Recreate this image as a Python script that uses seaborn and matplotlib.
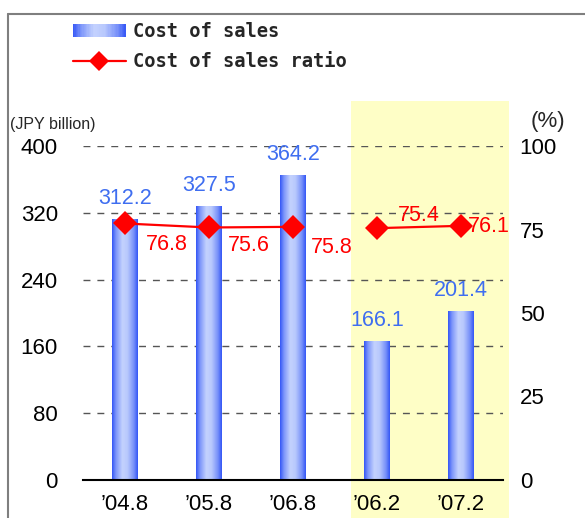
import numpy as np
import pandas as pd
import seaborn as sns
import matplotlib.pyplot as plt
from matplotlib.patches import Rectangle
from matplotlib.lines import Line2D
from matplotlib.colors import LinearSegmentedColormap
from matplotlib.legend_handler import HandlerBase

# chart data
periods = ['\u201904.8', '\u201905.8', '\u201906.8', '\u201906.2', '\u201907.2']
cost_of_sales = [312.2, 327.5, 364.2, 166.1, 201.4]  # JPY billion
cost_ratio = [76.8, 75.6, 75.8, 75.4, 76.1]          # %
period_type = ['annual', 'annual', 'annual', 'half', 'half']  # line breaks between groups
left_ticks = [0, 80, 160, 240, 320, 400]
right_ticks = [0, 25, 50, 75, 100]

# label offsets (pixels) for the ratio annotations
ratio_offsets = [(42, -21), (40, -18), (39, -21), (42, 13), (28, -1)]

BLUE_TXT = '#3f6ef0'
bar_cmap = LinearSegmentedColormap.from_list('bar', [
    (0.0, '#3557f6'), (0.15, '#7d96fa'), (0.4, '#c4d2fe'),
    (0.6, '#b8c8fd'), (0.85, '#7790f9'), (1.0, '#3557f6')])

df = pd.DataFrame({'period': periods, 'pos': range(len(periods)),
                   'cost': cost_of_sales, 'ratio': cost_ratio, 'type': period_type})

sns.set_theme(style='white')
plt.rcParams['font.family'] = ['Liberation Sans', 'DejaVu Sans']

W, H = 585, 518
fig = plt.figure(figsize=(W / 100, H / 100), dpi=100)
ax = fig.add_axes([83 / W, 38 / H, 420 / W, 334 / H])

sns.barplot(data=df, x='period', y='cost', color='#4a6cf7', width=0.3, ax=ax)

# cylinder-like horizontal gradient on each bar
grad = np.linspace(0, 1, 64).reshape(1, -1)
for p in list(ax.patches):
    x0, w, h = p.get_x(), p.get_width(), p.get_height()
    ax.imshow(grad, extent=[x0, x0 + w, 0, h], aspect='auto', cmap=bar_cmap,
              zorder=3, interpolation='bilinear')
    p.set_facecolor('none')
    p.set_edgecolor('none')

# highlighted half-year region
ax.add_patch(Rectangle((2.69, -50), 1.88, 504, facecolor='#fefec6',
                       edgecolor='none', zorder=0, clip_on=False))

ax.set_xlim(-0.5, 4.5)
ax.set_ylim(0, 400)
ax.set_yticks(left_ticks)
ax.set_axisbelow(True)
ax.yaxis.grid(True, color='#555555', linestyle=(0, (5, 5)), linewidth=1)
ax.xaxis.grid(False)
for s in ['top', 'left', 'right']:
    ax.spines[s].set_visible(False)
ax.spines['bottom'].set_color('black')
ax.spines['bottom'].set_linewidth(1.5)
ax.spines['bottom'].set_zorder(4)
ax.tick_params(axis='y', length=0, pad=18, labelsize=16, colors='black')
ax.tick_params(axis='x', length=0, pad=10, labelsize=16, colors='black')
ax.set_xlabel('')
ax.set_ylabel('')

for i, v in enumerate(cost_of_sales):
    ax.annotate(f'{v:.1f}', (i, v), xytext=(0, 21), textcoords='offset pixels',
                ha='center', va='center', fontsize=15.5, color=BLUE_TXT, zorder=5)

# ratio line on the right axis
ax2 = ax.twinx()
sns.lineplot(data=df, x='pos', y='ratio', units='type', estimator=None,
             color='red', linewidth=1.6, marker='D', markersize=12,
             markeredgewidth=0, legend=False, ax=ax2)
ax2.set_xlim(-0.5, 4.5)
ax2.set_ylim(0, 100)
ax2.set_yticks(right_ticks)
ax2.grid(False)
for s in ax2.spines.values():
    s.set_visible(False)
ax2.tick_params(axis='y', length=0, pad=12, labelsize=16, colors='black')
ax2.set_ylabel('')
ax2.set_xlabel('')

for i, v in enumerate(cost_ratio):
    dx, dy = ratio_offsets[i]
    ax2.annotate(f'{v:.1f}', (i, v), xytext=(dx, dy), textcoords='offset pixels',
                 ha='center', va='center', fontsize=15.5, color='red')

fig.text(10 / W, 1 - 124 / H, '(JPY billion)', fontsize=11.5, va='center', ha='left')
fig.text(548 / W, 1 - 122 / H, '(%)', fontsize=16, va='center', ha='center')


class GradientHandler(HandlerBase):
    def create_artists(self, legend, orig_handle, xdescent, ydescent,
                       width, height, fontsize, trans):
        n = 40
        arts = []
        for k in range(n):
            arts.append(Rectangle((-xdescent + width * k / n, -ydescent),
                                  width / n * 1.1, height,
                                  facecolor=bar_cmap((k + 0.5) / n),
                                  edgecolor='none', transform=trans))
        return arts


bar_handle = Rectangle((0, 0), 1, 1)
line_handle = Line2D([], [], color='red', linewidth=1.6, marker='D',
                     markersize=10, markeredgewidth=0)
fig.legend([bar_handle, line_handle], ['Cost of sales', 'Cost of sales ratio'],
           handler_map={Rectangle: GradientHandler()},
           loc='upper left', bbox_to_anchor=(73 / W, 1 - 22 / H),
           frameon=False, borderpad=0, borderaxespad=0,
           handlelength=2.8, handletextpad=0.4, labelspacing=0.6,
           prop={'family': 'DejaVu Sans Mono', 'weight': 'bold', 'size': 13.5})

# outer frame (top and left edges)
fig.add_artist(Line2D([8 / W, 1], [1 - 14 / H] * 2, transform=fig.transFigure,
                      color='#7f7f7f', linewidth=1.5))
fig.add_artist(Line2D([8 / W] * 2, [0, 1 - 14 / H], transform=fig.transFigure,
                      color='#7f7f7f', linewidth=1.5))

fig.savefig('out.png', dpi=100)
